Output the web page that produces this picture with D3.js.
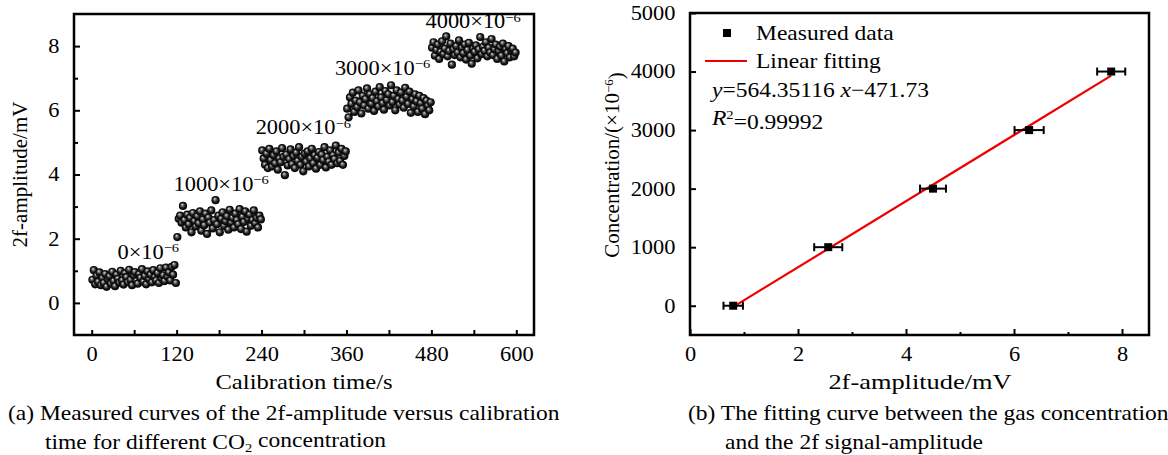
<!DOCTYPE html>
<html>
<head>
<meta charset="utf-8">
<script src="https://cdn.jsdelivr.net/npm/d3@7"></script>
<style>
  body { margin: 0; background: #fff; }
  svg text { font-family: "Liberation Serif", "Times New Roman", serif; fill: #000; }
</style>
</head>
<body>
<div id="chart"></div>
<script>
// ---- data: left panel, 2f amplitude (mV) sampled every 2 s, one array per concentration step ----
const segmentStarts = [0, 120, 240, 360, 480];
const segmentLabels = ["0", "1000", "2000", "3000", "4000"];
const seg0 = [0.72,1.02,0.58,0.85,0.66,0.95,0.55,0.78,0.62,0.9,0.5,0.74,0.83,0.6,0.97,0.68,0.52,0.88,0.75,0.63,1.0,0.7,0.57,0.92,0.8,0.65,1.03,0.72,0.55,0.86,0.96,0.68,0.6,0.9,0.78,1.05,0.66,0.84,0.58,0.98,0.74,0.88,0.64,1.02,0.8,0.7,0.93,0.62,1.08,0.76,0.86,0.68,1.1,0.82,0.95,0.7,1.12,0.88,1.18,0.62];
const seg1 = [2.05,2.62,2.72,2.5,3.02,2.58,2.35,2.75,2.45,2.65,2.2,2.8,2.55,2.38,2.7,2.48,2.85,2.25,2.6,2.42,2.78,2.15,2.66,2.5,2.88,2.32,2.58,3.2,2.45,2.72,2.2,2.62,2.82,2.4,2.55,2.7,2.28,2.9,2.5,2.65,2.35,2.78,2.58,2.45,2.92,2.3,2.68,2.52,2.85,2.22,2.62,2.75,2.4,2.58,2.88,2.48,2.65,2.35,2.72,2.6];
const seg2 = [4.75,4.5,4.3,4.65,4.2,4.8,4.45,4.25,4.6,4.35,4.72,4.15,4.5,4.38,4.82,4.55,3.98,4.62,4.28,4.48,4.78,4.32,4.58,4.2,4.68,4.42,4.85,4.3,4.55,4.1,4.65,4.4,4.72,4.25,4.5,4.8,4.35,4.6,4.18,4.52,4.7,4.3,4.62,4.45,4.85,4.22,4.55,4.4,4.75,4.3,4.6,4.48,4.9,4.35,4.68,4.42,4.8,4.3,4.58,4.72];
const seg3 = [6.05,5.78,6.4,6.2,6.55,5.95,6.3,6.1,6.62,6.25,5.9,6.45,6.15,6.35,6.68,6.05,6.5,6.2,6.38,5.98,6.58,6.28,6.12,6.72,6.4,6.22,6.02,6.6,6.32,6.5,6.15,6.78,6.25,6.45,6.0,6.62,6.35,6.18,6.55,6.3,6.08,6.7,6.42,6.2,6.58,5.92,6.35,6.12,6.5,6.28,5.95,6.45,6.22,6.05,6.38,5.88,6.3,6.15,6.0,6.25];
const seg4 = [7.95,8.12,7.7,7.88,8.05,7.6,7.82,8.15,7.75,7.92,8.3,7.68,7.85,8.08,7.42,7.9,7.72,8.0,7.8,8.18,7.65,7.95,7.78,8.05,7.58,7.88,8.1,7.7,7.45,7.92,7.82,8.02,7.62,7.9,8.28,7.75,7.98,7.85,8.12,7.68,7.95,7.8,8.22,7.72,7.9,8.05,7.6,7.85,7.98,7.7,8.08,7.52,7.9,7.78,8.0,7.65,7.85,7.92,7.68,7.8];
const sampleStep = 2;
// where each "xxx×10^-6" tag sits (time, amplitude at baseline)
const tagTime = [80, 183, 299, 411, 539];
const tagAmp = [1.37, 3.49, 5.26, 7.1, 8.56];

// ---- data: right panel ----
const amplitude = [0.8, 2.56, 4.5, 6.28, 7.8];
const concentration = [0, 1000, 2000, 3000, 4000];
const ampError = [0.18, 0.26, 0.24, 0.27, 0.26];
const fitSlope = 564.35116, fitIntercept = -471.73;

const width = 1168, height = 455;
const SX = 1.12; // glyphs in the source are a bit wider than Times

const svg = d3.select('#chart').append('svg')
    .attr('width', width)
    .attr('height', height);

// shaded sphere for the scatter points
const grad = svg.append('defs').append('radialGradient')
    .attr('id', 'ball').attr('cx', '50%').attr('cy', '50%').attr('r', '50%')
    .attr('fx', '38%').attr('fy', '32%');
grad.append('stop').attr('offset', '0%').attr('stop-color', '#ececec');
grad.append('stop').attr('offset', '25%').attr('stop-color', '#808080');
grad.append('stop').attr('offset', '62%').attr('stop-color', '#1c1c1c');
grad.append('stop').attr('offset', '100%').attr('stop-color', '#000');

function stretchText(sel) {
    sel.attr('transform', `scale(${SX},1)`);
}

function label(g, x, y, anchor, size, sx) {
    return g.append('text')
        .attr('transform', `translate(${x},${y}) scale(${sx || SX},1)`)
        .attr('text-anchor', anchor)
        .style('font-size', size + 'px');
}

// ================= left panel =================
const xL = d3.scaleLinear().domain([-25, 625]).range([74, 534]);
const yL = d3.scaleLinear().domain([-1, 9]).range([335, 14]);
const left = svg.append('g');

const pts = [];
[seg0, seg1, seg2, seg3, seg4].forEach((seg, s) => {
    seg.forEach((v, i) => pts.push({ t: segmentStarts[s] + 1 + i * sampleStep, v: v }));
});

left.selectAll('circle.ball')
    .data(pts)
    .enter().append('circle')
    .attr('class', 'ball')
    .attr('cx', d => xL(d.t))
    .attr('cy', d => yL(d.v))
    .attr('r', 4.1)
    .attr('fill', 'url(#ball)');

// x axis (ticks inward)
left.append('g').attr('transform', `translate(0,${yL(-1)})`)
    .call(d3.axisBottom(xL).tickValues(d3.range(0, 601, 60))
        .tickSizeInner(-5).tickSizeOuter(0).tickPadding(12)
        .tickFormat(d => d % 120 === 0 ? d : ''));
// y axis, major + minor
left.append('g').attr('transform', `translate(${xL(-25)},0)`)
    .call(d3.axisLeft(yL).tickValues([0, 2, 4, 6, 8])
        .tickSizeInner(-6).tickSizeOuter(0).tickPadding(13));
left.append('g').attr('transform', `translate(${xL(-25)},0)`)
    .call(d3.axisLeft(yL).tickValues([1, 3, 5, 7])
        .tickSizeInner(-4).tickSizeOuter(0).tickFormat(''));

// ================= right panel =================
const xR = d3.scaleLinear().domain([0, 8.5]).range([690, 1149]);
const yR = d3.scaleLinear().domain([-500, 5000]).range([335, 13]);
const right = svg.append('g');

right.append('g').attr('transform', `translate(0,${yR(-500)})`)
    .call(d3.axisBottom(xR).tickValues([0, 2, 4, 6, 8])
        .tickSizeInner(-6).tickSizeOuter(0).tickPadding(12));
right.append('g').attr('transform', `translate(0,${yR(-500)})`)
    .call(d3.axisBottom(xR).tickValues([1, 3, 5, 7])
        .tickSizeInner(-3).tickSizeOuter(0).tickFormat(''));
right.append('g').attr('transform', `translate(${xR(0)},0)`)
    .call(d3.axisLeft(yR).tickValues(d3.range(0, 5001, 1000))
        .tickSizeInner(-6).tickSizeOuter(0).tickPadding(13)
        .tickFormat(d3.format('d')));

// fit line
const fitX = d3.extent(amplitude);
right.append('line')
    .attr('x1', xR(fitX[0])).attr('y1', yR(fitSlope * fitX[0] + fitIntercept))
    .attr('x2', xR(fitX[1])).attr('y2', yR(fitSlope * fitX[1] + fitIntercept))
    .attr('stroke', '#ee0000').attr('stroke-width', 2.2);

// error bars + squares
const eb = right.selectAll('g.eb')
    .data(amplitude.map((a, i) => ({ a: a, c: concentration[i], e: ampError[i] })))
    .enter().append('g').attr('class', 'eb');
eb.append('line')
    .attr('x1', d => xR(d.a - d.e)).attr('x2', d => xR(d.a + d.e))
    .attr('y1', d => yR(d.c)).attr('y2', d => yR(d.c))
    .attr('stroke', '#000').attr('stroke-width', 2);
eb.selectAll('line.cap')
    .data(d => [[d.a - d.e, d.c], [d.a + d.e, d.c]])
    .enter().append('line').attr('class', 'cap')
    .attr('x1', d => xR(d[0])).attr('x2', d => xR(d[0]))
    .attr('y1', d => yR(d[1]) - 4).attr('y2', d => yR(d[1]) + 4)
    .attr('stroke', '#000').attr('stroke-width', 2);
eb.append('rect')
    .attr('x', d => xR(d.a) - 4).attr('y', d => yR(d.c) - 4)
    .attr('width', 8).attr('height', 8).attr('fill', '#000');

// style axes + frames
svg.selectAll('.domain').remove();
svg.selectAll('.tick line').attr('stroke', '#000').attr('stroke-width', 2);
svg.selectAll('.tick text').style('font-size', '20px').call(stretchText);

[[xL, yL], [xR, yR]].forEach(([x, y]) => {
    svg.append('rect')
        .attr('x', x.range()[0]).attr('y', y.range()[1])
        .attr('width', x.range()[1] - x.range()[0])
        .attr('height', y.range()[0] - y.range()[1])
        .attr('fill', 'none').attr('stroke', '#000').attr('stroke-width', 2.5);
});

// tags on the left
tagTime.forEach((t, i) => {
    const tx = label(left, xL(t), yL(tagAmp[i]), 'middle', 20);
    tx.append('tspan').text(segmentLabels[i] + '×10');
    tx.append('tspan').attr('dy', '-0.5em').style('font-size', '13px').text('−6');
});

// axis titles
label(svg, 304, 389, 'middle', 22).text('Calibration time/s');
svg.append('text')
    .attr('transform', `translate(27,${(yL.range()[0] + yL.range()[1]) / 2}) rotate(-90)`)
    .attr('text-anchor', 'middle').style('font-size', '21px').text('2f-amplitude/mV');

label(svg, 920, 389, 'middle', 22, 1.2).text('2f-amplitude/mV');
const yt = svg.append('text')
    .attr('transform', `translate(619,165) rotate(-90)`)
    .attr('text-anchor', 'middle').style('font-size', '21px');
yt.append('tspan').text('Concentration/(×10');
yt.append('tspan').attr('dy', '-0.5em').style('font-size', '13px').text('−6');
yt.append('tspan').attr('dy', '0.5em').text(')');

// legend
right.append('rect').attr('x', 723).attr('y', 29).attr('width', 8).attr('height', 8).attr('fill', '#000');
label(right, 756, 40, 'start', 21).text('Measured data');
right.append('line').attr('x1', 705).attr('x2', 747).attr('y1', 61).attr('y2', 61)
    .attr('stroke', '#ee0000').attr('stroke-width', 2.2);
label(right, 756, 68, 'start', 21).text('Linear fitting');

const eq = label(right, 712, 97, 'start', 21);
eq.append('tspan').style('font-style', 'italic').text('y');
eq.append('tspan').text('=564.35116 ');
eq.append('tspan').style('font-style', 'italic').text('x');
eq.append('tspan').text('−471.73');
const r2 = label(right, 712, 125, 'start', 21);
r2.append('tspan').style('font-style', 'italic').text('R');
r2.append('tspan').attr('dy', '-0.5em').style('font-size', '13px').text('2');
r2.append('tspan').attr('dy', '0.5em').text('=0.99992');

// captions
label(svg, 8, 420, 'start', 21).text('(a) Measured curves of the 2f-amplitude versus calibration');
const c2 = label(svg, 45, 449, 'start', 21);
c2.append('tspan').text('time for different CO');
c2.append('tspan').attr('dy', '0.2em').style('font-size', '13px').text('2');
c2.append('tspan').attr('dy', '-0.2em').text(' concentration');
label(svg, 688, 420, 'start', 21).text('(b) The fitting curve between the gas concentration');
label(svg, 725, 449, 'start', 21).text('and the 2f signal-amplitude');
</script>
</body>
</html>
